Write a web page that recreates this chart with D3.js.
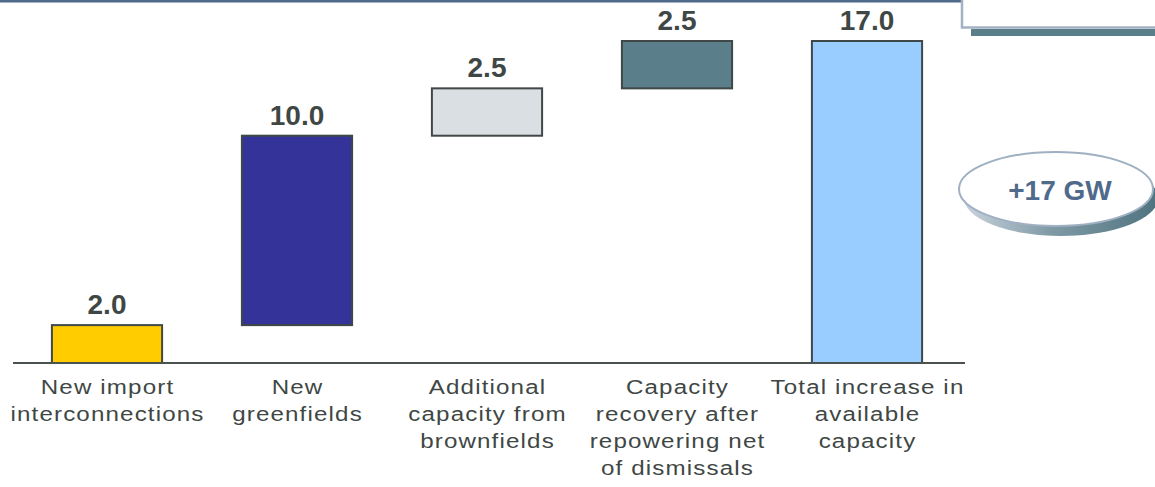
<!DOCTYPE html>
<html>
<head>
<meta charset="utf-8">
<script src="https://cdn.jsdelivr.net/npm/d3@7"></script>
<style>
  html, body { margin: 0; padding: 0; background: #fff; }
  svg { display: block; }
</style>
</head>
<body>
<svg id="chart" width="1155" height="487"></svg>
<script>
// Waterfall of available capacity increase (GW)
const categories = [
  ["New import", "interconnections"],
  ["New", "greenfields"],
  ["Additional", "capacity from", "brownfields"],
  ["Capacity", "recovery after", "repowering net", "of dismissals"],
  ["Total increase in", "available", "capacity"]
];
const values = [2.0, 10.0, 2.5, 2.5, 17.0];
const isTotal = [false, false, false, false, true];
const barColors = ["#ffcc00", "#333399", "#d9dfe3", "#5a7f8a", "#99ccff"];
const valueLabels = ["2.0", "10.0", "2.5", "2.5", "17.0"];
const calloutText = "+17 GW";

const svg = d3.select("#chart");
const W = 1155, H = 487;
const FONT = "'Liberation Sans', Arial, sans-serif";

// running start/end for each step
let run = 0;
const steps = values.map((v, i) => {
  if (isTotal[i]) return { i, y0: 0, y1: v };
  const s = { i, y0: run, y1: run + v };
  run += v;
  return s;
});

const x = d3.scaleBand()
  .domain(d3.range(categories.length))
  .range([12, 962])
  .paddingInner(0.42)
  .paddingOuter(0.21);

const y = d3.scaleLinear().domain([0, 17]).range([363, 41]);

// frame lines at the top
svg.append("rect").attr("x", 0).attr("y", 0).attr("width", 963).attr("height", 2.5).attr("fill", "#4f6a8a");
svg.append("rect").attr("x", 971).attr("y", 29).attr("width", W - 971).attr("height", 7).attr("fill", "#5a7f8a");
svg.append("path")
  .attr("d", `M962,0 V27.5 H${W}`)
  .attr("fill", "none").attr("stroke", "#a3b2c3").attr("stroke-width", 2.5);

// bars
svg.append("g").selectAll("rect")
  .data(steps)
  .join("rect")
  .attr("x", d => x(d.i))
  .attr("width", x.bandwidth())
  .attr("y", d => y(d.y1))
  .attr("height", d => y(d.y0) - y(d.y1))
  .attr("fill", d => barColors[d.i])
  .attr("stroke", "#3f4846")
  .attr("stroke-width", 2);

// baseline axis
const axis = d3.axisBottom(x).tickSize(0).tickFormat("");
const gAxis = svg.append("g").attr("transform", `translate(0,${y(0)})`).call(axis);
gAxis.select(".domain").attr("d", "M13,0H965").attr("stroke", "#4a5250").attr("stroke-width", 2);

// value labels
svg.append("g").selectAll("text")
  .data(steps)
  .join("text")
  .attr("x", d => x(d.i) + x.bandwidth() / 2)
  .attr("y", d => y(d.y1) - 11)
  .attr("text-anchor", "middle")
  .attr("font-family", FONT)
  .attr("font-weight", "bold")
  .attr("font-size", 28)
  .attr("fill", "#3f4745")
  .text(d => valueLabels[d.i]);

// category labels (slightly widened glyphs)
const LS = 1;
const catG = svg.append("g");
categories.forEach((lines, i) => {
  const cx = x(i) + x.bandwidth() / 2 + LS / 2;
  const t = catG.append("text")
    .attr("transform", `translate(${cx},0) scale(1.15,1)`)
    .attr("text-anchor", "middle")
    .attr("font-family", FONT)
    .attr("font-size", 21)
    .attr("letter-spacing", LS)
    .attr("fill", "#3f4745");
  lines.forEach((ln, k) => {
    t.append("tspan")
      .attr("x", 0)
      .attr("y", 394 + k * 27)
      .text(ln);
  });
});

// callout ellipse
const defs = svg.append("defs");
const grad = defs.append("linearGradient").attr("id", "shadowGrad").attr("x1", 0).attr("y1", 0).attr("x2", 1).attr("y2", 0);
grad.append("stop").attr("offset", "0%").attr("stop-color", "#c9d3dc");
grad.append("stop").attr("offset", "45%").attr("stop-color", "#7f9aa5");
grad.append("stop").attr("offset", "100%").attr("stop-color", "#4f7480");

const cx = 1056, cy = 189;
svg.append("ellipse").attr("cx", cx + 5).attr("cy", cy + 9).attr("rx", 97).attr("ry", 38).attr("fill", "url(#shadowGrad)");
svg.append("ellipse").attr("cx", cx).attr("cy", cy).attr("rx", 97).attr("ry", 37)
  .attr("fill", "#fff").attr("stroke", "#9fb0c2").attr("stroke-width", 2);
svg.append("text")
  .attr("x", cx + 4).attr("y", cy + 11)
  .attr("text-anchor", "middle")
  .attr("font-family", FONT)
  .attr("font-weight", "bold")
  .attr("font-size", 28)
  .attr("fill", "#4f6a8a")
  .text(calloutText);
</script>
</body>
</html>
